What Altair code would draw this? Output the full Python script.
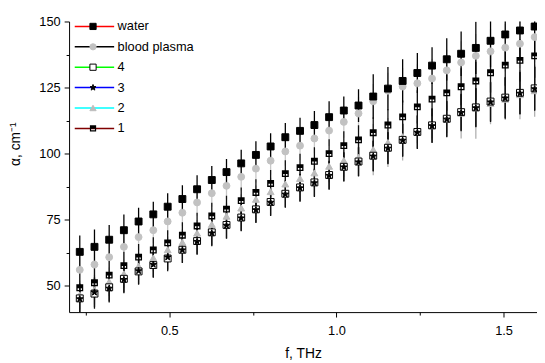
import altair as alt
import pandas as pd

# ---------------- data ----------------
freq = [0.232, 0.276, 0.320, 0.364, 0.408, 0.452, 0.495, 0.539, 0.583, 0.627, 0.671,
        0.715, 0.759, 0.803, 0.847, 0.891, 0.934, 0.978, 1.022, 1.066, 1.110, 1.154,
        1.198, 1.242, 1.286, 1.330, 1.373, 1.417, 1.461, 1.505, 1.549, 1.593]

water = [62.8, 64.7, 67.4, 71.0, 74.3, 77.0, 79.9, 82.8, 86.5, 90.0, 93.0, 96.3, 99.5,
         102.7, 106.2, 108.6, 110.8, 113.8, 116.3, 118.2, 121.6, 124.6, 127.5, 130.5,
         133.3, 135.7, 137.8, 140.0, 142.7, 145.1, 146.6, 148.1]
plasma = [56.0, 58.0, 60.8, 64.7, 68.4, 71.0, 74.3, 77.6, 81.5, 85.0, 87.8, 91.2, 94.3,
          97.3, 100.8, 103.0, 105.7, 108.7, 112.0, 115.2, 119.8, 123.8, 125.4, 126.6,
          128.4, 131.5, 134.5, 137.0, 138.7, 140.1, 141.6, 144.1]
s4 = [45.2, 47.0, 49.4, 52.6, 55.4, 57.8, 60.3, 63.6, 66.9, 70.2, 73.0, 75.8, 78.9, 81.7,
      84.8, 87.2, 89.1, 91.9, 95.0, 97.0, 99.2, 102.2, 105.2, 108.2, 110.7, 113.2, 115.7,
      117.5, 119.7, 121.2, 123.0, 124.7]
s3 = [45.0, 47.5, 49.0, 52.3, 55.6, 58.0, 60.8, 63.5, 66.7, 69.9, 72.8, 75.6, 78.7, 81.5,
      84.6, 87.0, 88.9, 91.7, 94.9, 96.8, 99.0, 102.0, 105.0, 108.0, 110.5, 113.0, 115.5,
      117.3, 119.5, 121.0, 122.8, 124.5]
s2 = [46.5, 48.5, 51.5, 54.5, 57.4, 60.5, 63.6, 66.4, 69.9, 73.2, 76.3, 79.4, 82.7, 85.6,
      88.5, 90.6, 92.7, 95.2, 97.4, 98.6, 101.5, 104.2, 106.4, 108.2, 110.5, 113.0, 115.3,
      117.3, 119.0, 120.6, 122.3, 123.8]
s1 = [49.2, 51.1, 54.0, 57.6, 60.8, 63.5, 66.2, 69.1, 72.6, 76.4, 79.0, 82.2, 85.3, 88.7,
      92.4, 94.7, 97.1, 100.0, 103.0, 105.2, 107.9, 110.8, 113.9, 117.7, 120.6, 123.0,
      125.3, 127.5, 130.6, 133.5, 135.3, 137.0]

err_water = [6.2, 6.6, 5.6, 5.9, 5.2, 4.8, 5.1, 5.2, 5.3, 5.3, 5.0, 5.2, 5.2, 5.0, 5.4,
             5.0, 5.3, 6.0, 5.3, 6.2, 8.4, 8.2, 8.2, 7.6, 7.0, 8.0, 8.4, 9.9, 10.0, 10.2,
             10.5, 10.5]
err_plasma = [5.5, 5.6, 5.4, 5.3, 5.2, 5.0, 5.0, 5.0, 5.0, 5.1, 5.1, 5.2, 5.2, 5.3, 5.4,
              5.5, 5.6, 5.8, 6.0, 6.2, 6.5, 6.8, 7.0, 7.2, 7.5, 7.8, 8.0, 8.3, 8.6, 9.0,
              9.3, 9.6]
err_samples = [5.6, 5.7, 5.4, 5.2, 5.0, 4.8, 4.8, 4.9, 5.0, 5.0, 5.0, 5.0, 5.0, 5.1, 5.1,
               5.2, 5.3, 5.4, 5.5, 5.5, 5.8, 6.0, 6.2, 6.3, 6.5, 6.8, 7.0, 7.3, 7.5, 7.8,
               8.0, 8.3]
err_tri = [5.5, 5.6, 5.4, 5.3, 5.2, 5.0, 5.0, 5.0, 5.0, 5.0, 5.1, 5.2, 5.2, 5.3, 5.4, 5.5,
           5.7, 6.0, 6.2, 7.1, 9.7, 9.3, 9.0, 4.3, 4.8, 5.2, 9.6, 11.7, 7.9, 7.9, 9.3, 9.9]

series_names = ["water", "blood plasma", "4", "3", "2", "1"]
line_colors = ["#ff0000", "#000000", "#00ff00", "#0000ff", "#00ffff", "#800000"]

STAR = ("M0,-1L0.235,-0.324L0.951,-0.309L0.38,0.124L0.588,0.809L0,0.4L-0.588,0.809"
        "L-0.38,0.124L-0.951,-0.309L-0.235,-0.324Z")
HALF = ("M-1,-1H1V1H-1Z M-0.62,-0.62V0.62H0.62V-0.62Z M-1,-1H1V0.1H-1Z")
shapes = ["square", "circle", "square", STAR, "triangle-up", HALF]
fills = ["#000000", "#c2c2c2", "#ffffff", "#000000", "#bcbcbc", "#000000"]
strokes = ["#000000", "#c2c2c2", "#000000", "#000000", "#bcbcbc", "transparent"]
bar_colors = {"water": "#000000", "blood plasma": "#c8c8c8", "4": "#111111",
              "3": "#111111", "2": "#b0b0b0", "1": "#111111"}

series_data = {
    "water": (water, err_water),
    "blood plasma": (plasma, err_plasma),
    "4": (s4, err_samples),
    "3": (s3, err_samples),
    "2": (s2, err_tri),
    "1": (s1, err_samples),
}

# line legend uses its own (space-suffixed) domain so it is not merged with the marker legend
line_names = [n + " " for n in series_names]


def frame(order):
    rows = []
    for name in order:
        vals, errs = series_data[name]
        for f, v, e in zip(freq, vals, errs):
            rows.append({"series": name, "lname": name + " ", "f": f, "a": v,
                         "lo": v - e, "hi": v + e, "ecol": bar_colors[name]})
    return pd.DataFrame(rows)


df_pts = frame(["2", "4", "3", "1", "blood plasma", "water"])
df_bars = frame(["blood plasma", "2", "4", "3", "1", "water"])

xscale = alt.Scale(domain=[0.2, 1.6], nice=False, zero=False)
yscale = alt.Scale(domain=[40, 150], nice=False, zero=False)

x_main = alt.Axis(values=[0.5, 1.0, 1.5], format=".1f", title="f, THz", tickSize=5,
                  labelPadding=8, titlePadding=9, grid=False, orient="bottom")
y_main = alt.Axis(values=[50, 75, 100, 125, 150], title="α, cm⁻¹", tickSize=5,
                  labelPadding=4, titlePadding=17, titleY=124, grid=False, orient="left")
x_minor = alt.Axis(values=[0.25, 0.75, 1.25], labels=False, domain=False, tickSize=3,
                   title=None, grid=False, orient="bottom")
y_minor = alt.Axis(values=[62.5, 87.5, 112.5, 137.5], labels=False, domain=False,
                   tickSize=3, title=None, grid=False, orient="left")

bars = alt.Chart(df_bars).mark_rule(strokeWidth=1.3, clip=True).encode(
    x=alt.X("f:Q", scale=xscale, axis=x_main),
    y=alt.Y("lo:Q", scale=yscale, axis=y_main),
    y2="hi:Q",
    color=alt.Color("ecol:N", scale=None),
)

pt_legend = alt.Legend(title=None, orient="none", legendX=17.8, legendY=-1.5,
                       direction="vertical", symbolSize=40, symbolStrokeWidth=1,
                       labelFontSize=13, labelExpr="' '", rowPadding=6.7, padding=0)

points = alt.Chart(df_pts).mark_point(size=49, opacity=1, strokeWidth=1, clip=True).encode(
    x=alt.X("f:Q", scale=xscale, axis=None),
    y=alt.Y("a:Q", scale=yscale, axis=None),
    shape=alt.Shape("series:N", scale=alt.Scale(domain=series_names, range=shapes),
                    legend=pt_legend),
    fill=alt.Fill("series:N", scale=alt.Scale(domain=series_names, range=fills),
                  legend=pt_legend),
    stroke=alt.Stroke("series:N", scale=alt.Scale(domain=series_names, range=strokes),
                      legend=pt_legend),
)

line_legend = alt.Legend(title=None, orient="none", legendX=19.25, legendY=-1.5,
                         direction="vertical", symbolType="M-5,0H5", symbolSize=64,
                         symbolStrokeWidth=1.5, labelFontSize=13, labelOffset=17,
                         labelColor="#000000", rowPadding=6.7, padding=0)

legend_lines = alt.Chart(df_pts).mark_line(clip=True).encode(
    x=alt.X("f:Q", scale=xscale, axis=x_minor),
    y=alt.Y("a:Q", scale=yscale, axis=y_minor),
    color=alt.Color("lname:N", scale=alt.Scale(domain=line_names, range=line_colors),
                    legend=line_legend),
    detail="lname:N",
).transform_filter("datum.f < 0")

chart = alt.layer(bars, points, legend_lines).resolve_axis(
    x="independent", y="independent"
).properties(
    width=475, height=295,
    autosize=alt.AutoSizeParams(type="none"),
    padding={"left": 62, "top": 11, "right": 0, "bottom": 52},
).configure_view(stroke=None).configure_axis(
    labelFont="Liberation Sans", titleFont="Liberation Sans", labelFontSize=13,
    titleFontSize=14, titleFontWeight="normal", labelColor="#000000",
    titleColor="#000000", domainColor="#000000", tickColor="#000000",
    domainWidth=1, tickWidth=1,
).configure_legend(labelFont="Liberation Sans")

chart.save("out.html", embed_options={"renderer": "svg", "actions": False})
